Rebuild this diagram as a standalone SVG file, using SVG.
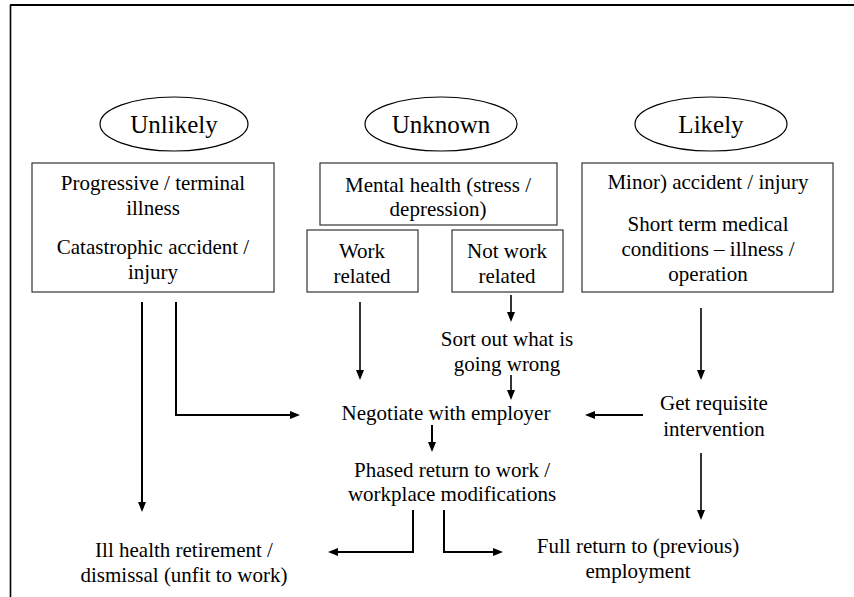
<svg xmlns="http://www.w3.org/2000/svg" width="854" height="597" viewBox="0 0 854 597">
<style>
  text { font-family: "Liberation Serif", "Times New Roman", serif; fill: #000; text-anchor: middle; }
  .t { font-size: 21px; }
  .big { font-size: 25px; }
  .box { fill: #fff; stroke: #333; stroke-width: 1.2; }
  .ell { fill: #fff; stroke: #000; stroke-width: 1.2; }
  .c { fill: none; stroke: #000; stroke-width: 2; }
  .thin { stroke-width: 1.6; }
</style>
<defs>
  <marker id="ah" markerUnits="userSpaceOnUse" markerWidth="10" markerHeight="8" refX="2" refY="4" orient="auto">
    <path d="M0,0 L10,4 L0,8 z" fill="#000"/>
  </marker>
</defs>
<rect x="0" y="0" width="854" height="597" fill="#fff"/>
<g id="frame">
  <line x1="10" y1="5" x2="854" y2="5" stroke="#000" stroke-width="2"/>
  <line x1="10.5" y1="5" x2="10.5" y2="597" stroke="#000" stroke-width="1.6"/>
</g>
<g id="unlikely">
  <ellipse class="ell" cx="174" cy="124" rx="74" ry="27"/>
  <text class="big" x="174" y="133">Unlikely</text>
</g>
<g id="unknown">
  <ellipse class="ell" cx="441" cy="124" rx="76" ry="27"/>
  <text class="big" x="441" y="133">Unknown</text>
</g>
<g id="likely">
  <ellipse class="ell" cx="711" cy="124" rx="76" ry="27"/>
  <text class="big" x="711" y="133">Likely</text>
</g>
<g id="progressive">
  <rect class="box" x="32" y="163" width="242" height="129"/>
  <text class="t" x="153" y="190">Progressive / terminal</text>
  <text class="t" x="153" y="215">illness</text>
  <text class="t" x="153" y="254">Catastrophic accident /</text>
  <text class="t" x="153" y="279">injury</text>
</g>
<g id="mental">
  <rect class="box" x="320" y="163" width="237" height="62"/>
  <text class="t" x="438" y="192">Mental health (stress /</text>
  <text class="t" x="438" y="216">depression)</text>
</g>
<g id="work">
  <rect class="box" x="307" y="230" width="111" height="62"/>
  <text class="t" x="362" y="258">Work</text>
  <text class="t" x="362" y="283">related</text>
</g>
<g id="notwork">
  <rect class="box" x="452" y="230" width="111" height="62"/>
  <text class="t" x="507" y="258">Not work</text>
  <text class="t" x="507" y="283">related</text>
</g>
<g id="minor">
  <rect class="box" x="582" y="163" width="251" height="129"/>
  <text class="t" x="708" y="189">Minor) accident / injury</text>
  <text class="t" x="708" y="231">Short term medical</text>
  <text class="t" x="708" y="256">conditions – illness /</text>
  <text class="t" x="708" y="281">operation</text>
</g>
<g id="sortout">
  <text class="t" x="507" y="346">Sort out what is</text>
  <text class="t" x="507" y="371">going wrong</text>
</g>
<g id="negotiate">
  <text class="t" x="446" y="420">Negotiate with employer</text>
</g>
<g id="requisite">
  <text class="t" x="714" y="410">Get requisite</text>
  <text class="t" x="714" y="436">intervention</text>
</g>
<g id="phased">
  <text class="t" x="452" y="477">Phased return to work /</text>
  <text class="t" x="452" y="501">workplace modifications</text>
</g>
<g id="illhealth">
  <text class="t" x="184" y="557">Ill health retirement /</text>
  <text class="t" x="184" y="582">dismissal (unfit to work)</text>
</g>
<g id="fullreturn">
  <text class="t" x="638" y="553">Full return to (previous)</text>
  <text class="t" x="638" y="578">employment</text>
</g>
<g id="connectors">
  <path class="c" d="M142,302 V504" marker-end="url(#ah)"/>
  <path class="c" d="M176,302 V415 H292" marker-end="url(#ah)"/>
  <path class="c thin" d="M360,302 V372" marker-end="url(#ah)"/>
  <path class="c thin" d="M511,295 V314" marker-end="url(#ah)"/>
  <path class="c thin" d="M511,375 V392" marker-end="url(#ah)"/>
  <path class="c thin" d="M701,308 V372" marker-end="url(#ah)"/>
  <path class="c" d="M643,415 H593" marker-end="url(#ah)"/>
  <path class="c" d="M432,425 V444" marker-end="url(#ah)"/>
  <path class="c" d="M413,510 V552 H336" marker-end="url(#ah)"/>
  <path class="c" d="M444,510 V552 H495" marker-end="url(#ah)"/>
  <path class="c thin" d="M701,453 V512" marker-end="url(#ah)"/>
</g>
</svg>
